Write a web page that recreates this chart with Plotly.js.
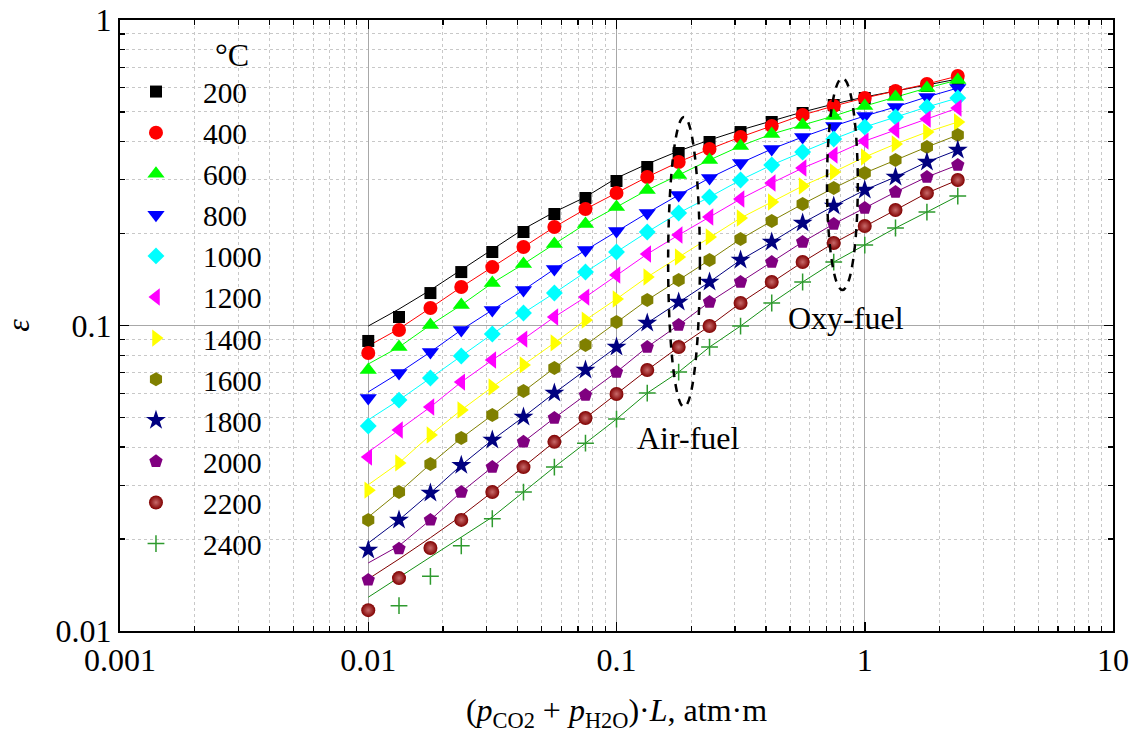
<!DOCTYPE html>
<html>
<head>
<meta charset="utf-8">
<script src="https://cdn.plot.ly/plotly-3.0.1.min.js"></script>
<style>html,body{margin:0;padding:0;background:#fff}</style>
</head>
<body>
<div id="chart" style="width:1137px;height:746px"></div>
<script>
// Path length (atm·m) at which the emissivities are given
var pathLength = [0.01, 0.0133, 0.0178, 0.0237, 0.0316, 0.0422, 0.0562, 0.075, 0.1, 0.133,
                  0.178, 0.237, 0.316, 0.422, 0.562, 0.75, 1.0, 1.33, 1.78, 2.37];
var pathLength2400 = pathLength.slice(1);

var temperatures = ['200','400','600','800','1000','1200','1400','1600','1800','2000','2200','2400'];

// Data points (markers)
var eps200  = [0.0890,0.1066,0.1277,0.1496,0.1740,0.2023,0.2317,0.2614,0.2972,0.3302,0.3670,0.3987,0.4298,0.4635,0.4961,0.5269,0.5556,0.5811,0.6081,0.6362];
var eps400  = [0.0813,0.0967,0.1141,0.1336,0.1553,0.1807,0.2100,0.2405,0.2714,0.3063,0.3429,0.3782,0.4140,0.4498,0.4887,0.5230,0.5556,0.5855,0.6173,0.6556];
var eps600  = [0.0715,0.0850,0.1004,0.1167,0.1377,0.1589,0.1848,0.2149,0.2442,0.2776,0.3109,0.3481,0.3869,0.4234,0.4532,0.4850,0.5230,0.5598,0.5989,0.6362];
var eps800  = [0.0579,0.0699,0.0819,0.0967,0.1124,0.1306,0.1530,0.1766,0.2038,0.2335,0.2674,0.3039,0.3403,0.3782,0.4140,0.4498,0.4850,0.5190,0.5598,0.5989];
var eps1000 = [0.0469,0.0570,0.0673,0.0795,0.0938,0.1099,0.1277,0.1496,0.1740,0.2023,0.2335,0.2633,0.2994,0.3353,0.3698,0.4077,0.4465,0.4814,0.5190,0.5556];
var eps1200 = [0.0371,0.0455,0.0541,0.0653,0.0771,0.0903,0.1066,0.1239,0.1463,0.1714,0.1978,0.2265,0.2595,0.2927,0.3277,0.3615,0.4016,0.4364,0.4741,0.5151];
var eps1400 = [0.0289,0.0355,0.0438,0.0529,0.0629,0.0743,0.0877,0.1042,0.1221,0.1441,0.1676,0.1949,0.2248,0.2537,0.2862,0.3180,0.3561,0.3927,0.4298,0.4635];
var eps1600 = [0.0231,0.0285,0.0352,0.0428,0.0509,0.0610,0.0726,0.0863,0.1027,0.1212,0.1409,0.1638,0.1919,0.2198,0.2498,0.2818,0.3156,0.3481,0.3840,0.4202];
var eps1800 = [0.0184,0.0231,0.0283,0.0349,0.0422,0.0502,0.0601,0.0715,0.0850,0.1019,0.1194,0.1388,0.1638,0.1876,0.2165,0.2461,0.2776,0.3063,0.3429,0.3754];
var eps2000 = [0.0147,0.0186,0.0231,0.0285,0.0344,0.0416,0.0498,0.0592,0.0704,0.0850,0.1004,0.1194,0.1388,0.1613,0.1876,0.2149,0.2424,0.2735,0.3063,0.3353];
var eps2200 = [0.0117,0.0149,0.0187,0.0231,0.0285,0.0344,0.0416,0.0498,0.0597,0.0715,0.0850,0.0996,0.1185,0.1388,0.1613,0.1862,0.2116,0.2388,0.2714,0.2994];
var eps2400 = [0.0121,0.0151,0.0190,0.0233,0.0285,0.0344,0.0412,0.0494,0.0601,0.0704,0.0850,0.0996,0.1185,0.1388,0.1613,0.1834,0.2085,0.2352,0.2653];

// Model curves (lines)
var fit200  = [0.0996,0.1132,0.1306,0.1519,0.1766,0.2069,0.2352,0.2633,0.3039,0.3378,0.3726,0.4047,0.4364,0.4670,0.4999,0.5309,0.5598,0.5855,0.6127,0.6410];
var fit400  = [0.0857,0.0975,0.1141,0.1336,0.1553,0.1807,0.2100,0.2405,0.2714,0.3063,0.3429,0.3782,0.4140,0.4498,0.4887,0.5230,0.5556,0.5855,0.6173,0.6556];
var fit600  = [0.0748,0.0850,0.1004,0.1167,0.1377,0.1589,0.1848,0.2149,0.2442,0.2776,0.3109,0.3481,0.3869,0.4234,0.4532,0.4850,0.5230,0.5598,0.5989,0.6362];
var fit800  = [0.0606,0.0699,0.0819,0.0967,0.1124,0.1306,0.1530,0.1766,0.2038,0.2335,0.2674,0.3039,0.3403,0.3782,0.4140,0.4498,0.4850,0.5190,0.5598,0.5989];
var fit1000 = [0.0491,0.0570,0.0673,0.0795,0.0938,0.1099,0.1277,0.1496,0.1740,0.2023,0.2335,0.2633,0.2994,0.3353,0.3698,0.4077,0.4465,0.4814,0.5190,0.5556];
var fit1200 = [0.0385,0.0455,0.0541,0.0653,0.0771,0.0903,0.1066,0.1239,0.1463,0.1714,0.1978,0.2265,0.2595,0.2927,0.3277,0.3615,0.4016,0.4364,0.4741,0.5151];
var fit1400 = [0.0301,0.0355,0.0438,0.0529,0.0629,0.0743,0.0877,0.1042,0.1221,0.1441,0.1676,0.1949,0.2248,0.2537,0.2862,0.3180,0.3561,0.3927,0.4298,0.4635];
var fit1600 = [0.0236,0.0285,0.0352,0.0428,0.0509,0.0610,0.0726,0.0863,0.1027,0.1212,0.1409,0.1638,0.1919,0.2198,0.2498,0.2818,0.3156,0.3481,0.3840,0.4202];
var fit1800 = [0.0194,0.0231,0.0283,0.0349,0.0422,0.0502,0.0601,0.0715,0.0850,0.1019,0.1194,0.1388,0.1638,0.1876,0.2165,0.2461,0.2776,0.3063,0.3429,0.3754];
var fit2000 = [0.0167,0.0190,0.0231,0.0285,0.0344,0.0416,0.0498,0.0592,0.0704,0.0850,0.1004,0.1194,0.1388,0.1613,0.1876,0.2149,0.2424,0.2735,0.3063,0.3353];
var fit2200 = [0.0148,0.0172,0.0202,0.0238,0.0285,0.0344,0.0416,0.0498,0.0597,0.0715,0.0850,0.0996,0.1185,0.1388,0.1613,0.1862,0.2116,0.2388,0.2714,0.2994];
var fit2400 = [0.0129,0.0150,0.0175,0.0203,0.0236,0.0285,0.0344,0.0412,0.0494,0.0601,0.0704,0.0850,0.0996,0.1185,0.1388,0.1613,0.1834,0.2085,0.2352,0.2653];

var xTickVals = [0.001, 0.01, 0.1, 1, 10];
var xTickText = ['0.001', '0.01', '0.1', '1', '10'];
var yTickVals = [0.01, 0.1, 1];
var yTickText = ['0.01', '0.1', '1'];

var markerData = [eps200, eps400, eps600, eps800, eps1000, eps1200, eps1400, eps1600, eps1800, eps2000, eps2200, eps2400];
var fitData = [fit200, fit400, fit600, fit800, fit1000, fit1200, fit1400, fit1600, fit1800, fit2000, fit2200, fit2400];

var markerColors = ['#000000','#ff0000','#00ff00','#0000ff','#00ffff','#ff00ff','#ffff00','#808000','#000080','#800080','#800000','#2e9a2e'];
var lineColors   = ['#000000','#ff0000','#00ff00','#0000ff','#00ffff','#ff00ff','#ffff00','#808000','#000080','#800080','#800000','#159015'];
var symbols = ['square','circle','triangle-up','triangle-down','diamond','triangle-left','triangle-right','hexagon','star','pentagon','circle','cross-thin'];
var sizes   = [12, 14, 15, 15, 13, 15, 15, 14, 15, 14, 14, 12];

var traces = [];
for (var i = 0; i < temperatures.length; i++) {
  traces.push({
    type: 'scatter', mode: 'lines', x: pathLength, y: fitData[i],
    line: {color: lineColors[i], width: 1}, showlegend: false, hoverinfo: 'skip'
  });
}
for (var j = 0; j < temperatures.length; j++) {
  var m = {symbol: symbols[j], size: sizes[j], color: markerColors[j], line: {width: 0}};
  if (j === 10) m.gradient = {type: 'radial', color: '#c86a6a'};
  if (j === 11) m.line = {width: 1.5, color: markerColors[j]};
  traces.push({
    type: 'scatter', mode: 'markers', name: temperatures[j],
    x: (j === 11) ? pathLength2400 : pathLength, y: markerData[j],
    marker: m
  });
}

var serif = 'Liberation Serif, Times New Roman, serif';
var minorX = [0.002,0.003,0.004,0.005,0.006,0.007,0.008,0.009,0.02,0.03,0.04,0.05,0.06,0.07,0.08,0.09,
              0.2,0.3,0.4,0.5,0.6,0.7,0.8,0.9,2,3,4,5,6,7,8,9];
var minorY = [0.02,0.03,0.04,0.05,0.06,0.07,0.08,0.09,0.2,0.3,0.4,0.5,0.6,0.7,0.8,0.9];

var layout = {
  width: 1137, height: 746,
  margin: {l: 120, r: 24, t: 20, b: 115},
  paper_bgcolor: '#ffffff', plot_bgcolor: '#ffffff',
  font: {family: serif, size: 32, color: '#000'},
  showlegend: true,
  legend: {
    x: -0.0111, y: 0.9247, xanchor: 'left', yanchor: 'top',
    bgcolor: 'rgba(0,0,0,0)', borderwidth: 0,
    font: {family: serif, size: 29.3, color: '#000'},
    itemwidth: 84, tracegroupgap: 0
  },
  xaxis: {
    type: 'log', range: [-3, 1],
    tickmode: 'array', tickvals: xTickVals, ticktext: xTickText,
    ticks: 'inside', ticklen: 9, tickwidth: 1.5, tickcolor: '#000',
    showline: true, linecolor: '#000', linewidth: 2, mirror: 'allticks',
    showgrid: true, gridcolor: '#a8a8a8', gridwidth: 1, zeroline: false,
    tickfont: {family: serif, size: 32, color: '#000'},
    minor: {tickmode: 'array', tickvals: minorX, ticks: 'inside', ticklen: 5, tickwidth: 1.2, tickcolor: '#000',
            showgrid: true, gridcolor: '#c8c8c8', gridwidth: 1, griddash: '3px,3px'},
    title: {text: '(<i>p</i><sub>CO2</sub> + <i>p</i><sub>H2O</sub>)·<i>L</i>, atm·m',
            font: {family: serif, size: 32}, standoff: 21}
  },
  yaxis: {
    type: 'log', range: [-2, 0],
    tickmode: 'array', tickvals: yTickVals, ticktext: yTickText,
    ticks: 'inside', ticklen: 9, tickwidth: 1.5, tickcolor: '#000',
    showline: true, linecolor: '#000', linewidth: 2, mirror: 'allticks',
    showgrid: true, gridcolor: '#a8a8a8', gridwidth: 1, zeroline: false,
    tickfont: {family: serif, size: 32, color: '#000'},
    minor: {tickmode: 'array', tickvals: minorY, ticks: 'inside', ticklen: 5, tickwidth: 1.2, tickcolor: '#000',
            showgrid: true, gridcolor: '#c8c8c8', gridwidth: 1, griddash: '3px,3px'},
    title: {text: '<i>ε</i>', font: {family: serif, size: 32}, standoff: 20}
  },
  shapes: [
    {type: 'circle', xref: 'paper', yref: 'paper', x0: 0.552, x1: 0.584, y0: 0.3666, y1: 0.8412,
     line: {color: '#000', width: 2.5, dash: '8px,7px'}},
    {type: 'circle', xref: 'paper', yref: 'paper', x0: 0.712, x1: 0.743, y0: 0.558, y1: 0.905,
     line: {color: '#000', width: 2.5, dash: '8px,7px'}}
  ],
  annotations: [
    {text: '°C', xref: 'paper', yref: 'paper', x: 0.1128, y: 0.9427, xanchor: 'center', yanchor: 'middle',
     showarrow: false, font: {family: serif, size: 32, color: '#000'}},
    {text: 'Air-fuel', xref: 'paper', yref: 'paper', x: 0.573, y: 0.316, xanchor: 'center', yanchor: 'middle',
     showarrow: false, font: {family: serif, size: 32, color: '#000'}},
    {text: 'Oxy-fuel', xref: 'paper', yref: 'paper', x: 0.731, y: 0.512, xanchor: 'center', yanchor: 'middle',
     showarrow: false, font: {family: serif, size: 32, color: '#000'}}
  ]
};

Plotly.newPlot('chart', traces, layout, {displayModeBar: false, staticPlot: true});
</script>
</body>
</html>
